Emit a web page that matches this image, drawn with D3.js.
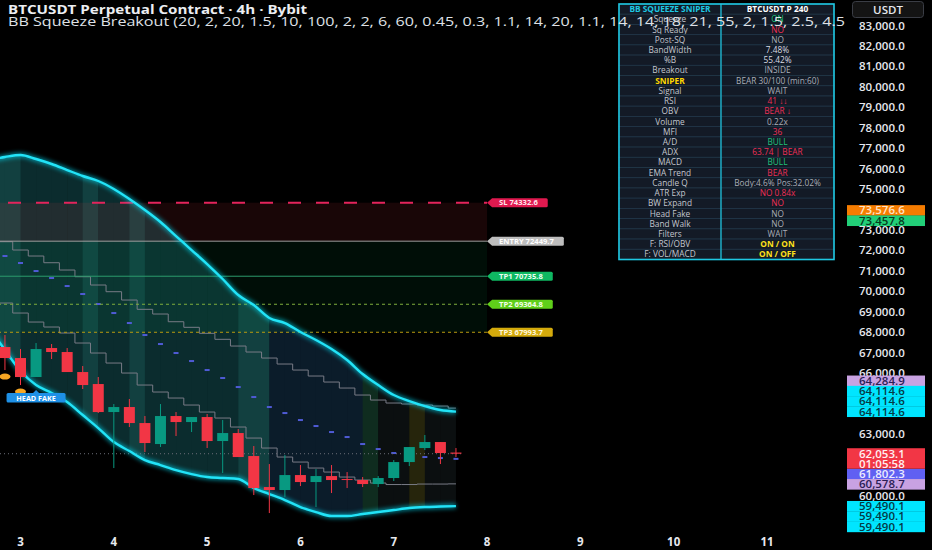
<!DOCTYPE html>
<html>
<head>
<meta charset="utf-8">
<script src="https://cdn.jsdelivr.net/npm/d3@7"></script>
<style>
  html, body { margin: 0; background: #000; overflow: hidden; }
  svg { display: block; font-family: "Open Sans", "Noto Sans", sans-serif; }
</style>
</head>
<body>
<svg id="chart" width="932" height="550"></svg>
<script>
// ---- data (4h bars, first one is day 2 16:00) ----
const firstBar = Date.UTC(2025, 2, 2, 16)
const opens = [67859, 67272, 66734, 65805, 67223, 67028, 66049, 65462, 64092, 64337, 63554, 62527, 63897, 63603, 63848, 62674, 63065, 61940, 60423, 60277, 61010, 60668, 60961, 60815, 60766, 60570, 60864, 61646, 62331, 62625, 62110]
const highs = [68104, 67859, 67174, 67468, 67419, 67223, 66343, 65805, 64484, 64728, 63897, 64484, 64092, 63848, 63995, 63701, 63261, 62429, 61549, 61989, 61500, 61304, 61500, 61157, 60913, 60961, 61744, 62380, 62967, 62625, 62331]
const lows = [67125, 66147, 65413, 65805, 66685, 66049, 65218, 64043, 61353, 63359, 62136, 62380, 62918, 63114, 62331, 61108, 61891, 60032, 59151, 59934, 60472, 59445, 60130, 60374, 60423, 60423, 60717, 61451, 62233, 61549, 61891]
const closes = [67272, 66734, 65805, 67174, 67028, 66049, 65413, 64092, 64337, 63554, 62576, 63897, 63603, 63848, 62674, 63065, 61891, 60374, 60277, 61010, 60668, 60961, 60766, 60766, 60570, 60864, 61646, 62380, 62625, 62087, 62053.1]

const upperBand = [76420, 76567, 76665, 76469, 76225, 75931, 75638, 75393, 75002, 74512, 73974, 73387, 72702, 72017, 71333, 70599, 69816, 69327, 68691, 68446, 68006, 67615, 67174, 66636, 65951, 65413, 64924, 64631, 64386, 64190, 64114.6]
const lowerBand = [68202, 67125, 66098, 65413, 65022, 64582, 63946, 63310, 62625, 62185, 61744, 61500, 61255, 61059, 60913, 60864, 60815, 60374, 60081, 59787, 59445, 59200, 59005, 59005, 59103, 59200, 59298, 59396, 59445, 59469, 59490.1]
const trailUpper = [72702, 72424, 72017, 71724, 71396, 71039, 70711, 70305, 69978, 69571, 69116, 68887, 68510, 68236, 67942, 67649, 67321, 67028, 66734, 66441, 66147, 65854, 65560, 65266, 64924, 64679, 64533, 64484, 64435, 64386, 64284.9]
const trailLower = [69767, 69425, 68935, 68495, 68251, 67957, 67468, 66979, 66489, 66000, 65413, 65071, 64777, 64435, 64092, 63799, 63359, 62820, 62331, 61891, 61646, 61353, 61157, 60913, 60766, 60619, 60546, 60546, 60570, 60570, 60578.7]
const signalLine = [72066, 71724, 71382, 70990, 70648, 70256, 69865, 69376, 68935, 68446, 67859, 67419, 66979, 66587, 66147, 65756, 65315, 64826, 64337, 64043, 63701, 63408, 63114, 62869, 62527, 62282, 62087, 61989, 61891, 61842, 61802.3]
// squeeze state of each bar: 0 squeeze, 1 squeeze peak, 2 release, 3 bull bar, 4 neutral, 5 warning
const bandState = [1, 1, 0, 0, 0, 0, 1, 0, 0, 1, 0, 0, 0, 0, 0, 0, 1, 1, 2, 2, 2, 2, 2, 2, 3, 4, 4, 5, 4, 4, 4]
const headFakeDots = [1, 2]
const headFakeLabel = 3

const levelNames = ['SL', 'ENTRY', 'TP1', 'TP2', 'TP3']
const levelPrices = [74332.6, 72449.7, 70735.8, 69364.8, 67993.7]
const levelEnd = Date.UTC(2025, 2, 8)

const extraLevels = [73576.6, 73457.8]
const countdown = '01:05:58'

const dayTicks = [3, 4, 5, 6, 7, 8, 9, 10, 11]
const priceTicks = d3.range(60000, 83001, 1000)

const tableLabels = ['BB SQUEEZE SNIPER', 'Squeeze', 'Sq Ready', 'Post-SQ', 'BandWidth', '%B', 'Breakout', 'SNIPER', 'Signal', 'RSI', 'OBV', 'Volume', 'MFI', 'A/D', 'ADX', 'MACD', 'EMA Trend', 'Candle Q', 'ATR Exp', 'BW Expand', 'Head Fake', 'Band Walk', 'Filters', 'F: RSI/OBV', 'F: VOL/MACD']
const tableValues = ['BTCUSDT.P 240', 'ON', 'NO', 'NO', '7.48%', '55.42%', 'INSIDE', 'BEAR 30/100 (min:60)', 'WAIT', '41 ↓↓', 'BEAR ↓', '0.22x', '36', 'BULL', '63.74 | BEAR', 'BULL', 'BEAR', 'Body:4.6% Pos:32.02%', 'NO 0.84x', 'NO', 'NO', 'NO', 'WAIT', 'ON / ON', 'ON / OFF']
const tableTones = ['head', 'bull', 'bear', 'muted', 'text', 'text', 'muted', 'muted', 'muted', 'bear', 'bear', 'muted', 'bear', 'bull', 'bear', 'bull', 'bear', 'muted', 'bear', 'bear', 'muted', 'muted', 'muted', 'warn', 'warn']

const titleMain = 'BTCUSDT Perpetual Contract · 4h · Bybit'
const titleStudy = 'BB Squeeze Breakout (20, 2, 20, 1.5, 10, 100, 2, 2, 6, 60, 0.45, 0.3, 1.1, 14, 20, 1.1, 14, 14, 18, 21, 55, 2, 1.5, 2.5, 4.5'

// ---- setup ----
const width = 932, height = 550
const plotRight = 843
const svg = d3.select('#chart')

svg.append('rect').attr('width', width).attr('height', height).attr('fill', '#000')

const x = d3.scaleUtc()
  .domain([new Date(Date.UTC(2025, 2, 3)), new Date(Date.UTC(2025, 2, 11))])
  .range([20.5, 767])
const y = d3.scaleLinear().domain([60000, 83000]).range([495.7, 25.5])

const bars = opens.map((o, i) => ({
  t: new Date(firstBar + i * 4 * 3600 * 1000),
  o: o, h: highs[i], l: lows[i], c: closes[i],
  up: upperBand[i], lo: lowerBand[i],
  a: trailUpper[i], b: trailLower[i], m: signalLine[i],
  s: bandState[i]
}))
const last = bars[bars.length - 1]
const barW = x(bars[1].t) - x(bars[0].t)

const defs = svg.append('defs')
defs.append('clipPath').attr('id', 'plot-clip')
  .append('rect').attr('x', 0).attr('y', 0).attr('width', plotRight).attr('height', height)
const glow = defs.append('filter').attr('id', 'glow')
  .attr('x', '-10%').attr('y', '-10%').attr('width', '120%').attr('height', '120%')
glow.append('feGaussianBlur').attr('stdDeviation', 2.2)

const bandArea = d3.area()
  .x(d => x(d.t)).y0(d => y(d.lo)).y1(d => y(d.up))
  .curve(d3.curveMonotoneX)
defs.append('clipPath').attr('id', 'band-clip')
  .append('path').attr('d', bandArea(bars))

const plot = svg.append('g').attr('clip-path', 'url(#plot-clip)')

// band fill, coloured per bar segment
const stateColors = ['#0b2c2e', '#124040', '#0b1c2a', '#0f2c1f', '#0b0f10', '#26250c']
plot.append('g').attr('clip-path', 'url(#band-clip)')
  .selectAll('rect')
  .data(bars.slice(0, -1))
  .join('rect')
  .attr('x', d => x(d.t))
  .attr('width', barW + 0.5)
  .attr('y', 0)
  .attr('height', height)
  .attr('fill', d => stateColors[d.s])

// trade zones
const xStart = -20
const xEnd = x(new Date(levelEnd))
plot.append('rect')
  .attr('x', xStart).attr('width', xEnd - xStart)
  .attr('y', y(levelPrices[0])).attr('height', y(levelPrices[1]) - y(levelPrices[0]))
  .attr('fill', 'rgba(242,54,69,0.1)')
plot.append('rect')
  .attr('x', xStart).attr('width', xEnd - xStart)
  .attr('y', y(levelPrices[1])).attr('height', y(levelPrices[4]) - y(levelPrices[1]))
  .attr('fill', 'rgba(0,200,100,0.07)')

// trailing step lines
const stepLine = key => d3.line().x(d => x(d.t)).y(d => y(d[key])).curve(d3.curveStep)
plot.append('path').attr('d', stepLine('a')(bars))
  .attr('fill', 'none').attr('stroke', '#787b86').attr('stroke-width', 1)
plot.append('path').attr('d', stepLine('b')(bars))
  .attr('fill', 'none').attr('stroke', '#787b86').attr('stroke-width', 1)

// signal dashes
plot.append('g').selectAll('rect')
  .data(bars)
  .join('rect')
  .attr('x', d => x(d.t) - 2.5)
  .attr('y', d => y(d.m) - 1)
  .attr('width', 5)
  .attr('height', 2)
  .attr('fill', '#4f5bd5')

// level lines
const levelStyle = {
  SL: { line: '#e3245c', dash: '13,15', w: 2, tag: '#e0194f', text: '#ffe6ee' },
  ENTRY: { line: '#9e9e9e', dash: null, w: 1, tag: '#bdbdbd', text: '#ffffff' },
  TP1: { line: '#2b9b6c', dash: null, w: 1, tag: '#0fb862', text: '#eafff2' },
  TP2: { line: '#7fae3c', dash: '3,3', w: 1, tag: '#5fcf1a', text: '#f3ffe8' },
  TP3: { line: '#b89a10', dash: '3,3', w: 1, tag: '#d4aa0c', text: '#fff8de' }
}
levelNames.forEach((name, i) => {
  const st = levelStyle[name]
  plot.append('line')
    .attr('x1', xStart).attr('x2', xEnd)
    .attr('y1', y(levelPrices[i])).attr('y2', y(levelPrices[i]))
    .attr('stroke', st.line).attr('stroke-width', st.w)
    .attr('stroke-dasharray', st.dash)
})

// current price line
plot.append('line')
  .attr('x1', 0).attr('x2', x(last.t) + 7)
  .attr('y1', y(last.c)).attr('y2', y(last.c))
  .attr('stroke', '#6b6e78').attr('stroke-width', 1)
  .attr('stroke-dasharray', '1,3')

// bands
const bandLine = key => d3.line().x(d => x(d.t)).y(d => y(d[key])).curve(d3.curveMonotoneX)
;['up', 'lo'].forEach(key => {
  plot.append('path').attr('d', bandLine(key)(bars))
    .attr('fill', 'none').attr('stroke', '#00e5ff').attr('stroke-width', 5)
    .attr('opacity', 0.55).attr('filter', 'url(#glow)')
  plot.append('path').attr('d', bandLine(key)(bars))
    .attr('fill', 'none').attr('stroke', '#22e3f7').attr('stroke-width', 2.4)
})

// candles
const upColor = '#089981', downColor = '#f23645'
const candles = plot.append('g').selectAll('g')
  .data(bars)
  .join('g')
candles.append('line')
  .attr('x1', d => x(d.t)).attr('x2', d => x(d.t))
  .attr('y1', d => y(d.h)).attr('y2', d => y(d.l))
  .attr('stroke', d => d.c >= d.o ? upColor : downColor)
  .attr('stroke-width', 1)
candles.append('rect')
  .attr('x', d => x(d.t) - 5.5)
  .attr('width', 11)
  .attr('y', d => y(Math.max(d.o, d.c)))
  .attr('height', d => Math.max(1, Math.abs(y(d.o) - y(d.c))))
  .attr('fill', d => d.c >= d.o ? upColor : downColor)

// head fake markers
plot.append('g').selectAll('ellipse')
  .data(headFakeDots.map(i => bars[i]))
  .join('ellipse')
  .attr('cx', d => x(d.t))
  .attr('cy', d => y(d.l) + 6.5)
  .attr('rx', 5.5).attr('ry', 3)
  .attr('fill', '#f5a623')

const hf = bars[headFakeLabel]
const hfX = x(hf.t), hfY = y(hf.lo) + 5
const hfG = plot.append('g')
hfG.append('path')
  .attr('d', `M${hfX - 3},${hfY + 3}L${hfX},${hfY}L${hfX + 3},${hfY + 3}Z`)
  .attr('fill', '#1e90e6')
hfG.append('rect')
  .attr('x', hfX - 29.5).attr('y', hfY + 3)
  .attr('width', 59).attr('height', 9.5).attr('rx', 1.5)
  .attr('fill', '#1e90e6')
hfG.append('text')
  .attr('x', hfX).attr('y', hfY + 10.5)
  .attr('text-anchor', 'middle')
  .attr('font-size', 7.2).attr('font-weight', 700)
  .attr('fill', '#ffffff')
  .text('HEAD FAKE')

// level tags
levelNames.forEach((name, i) => {
  const st = levelStyle[name]
  const cy = y(levelPrices[i])
  const g = svg.append('g')
  const t = g.append('text')
    .attr('x', xEnd + 12).attr('y', cy + 2.7)
    .attr('font-size', 7.6).attr('font-weight', 700)
    .attr('fill', st.text)
    .text(name + ' ' + levelPrices[i].toFixed(1))
  const tw = t.node().getComputedTextLength()
  const right = xEnd + 12 + tw + 10
  g.insert('path', 'text')
    .attr('d', `M${xEnd},${cy}L${xEnd + 5},${cy - 4.5}L${right - 1.5},${cy - 4.5}Q${right},${cy - 4.5} ${right},${cy - 3}L${right},${cy + 3}Q${right},${cy + 4.5} ${right - 1.5},${cy + 4.5}L${xEnd + 5},${cy + 4.5}Z`)
    .attr('fill', st.tag)
})

// ---- x axis ----
svg.append('g').selectAll('text')
  .data(dayTicks)
  .join('text')
  .attr('x', d => x(new Date(Date.UTC(2025, 2, d))))
  .attr('y', 545.5)
  .attr('text-anchor', 'middle')
  .attr('font-size', 11.5).attr('font-weight', 700)
  .attr('fill', '#e6e8ee')
  .text(d => d)

// ---- price scale labels (layout first, ticks hidden where covered) ----
const fmt = d3.format(',.1f')
const labelStyle = {
  orange: ['#f57c00', '#ffe3c6'],
  green: ['#22cf78', '#063b20'],
  purple: ['#c8a2e2', '#2b1d55'],
  cyan: ['#00e5ff', '#053a45'],
  blue: ['#6060f2', '#ececff'],
  red: ['#f23645', '#fff0f0']
}
const scaleLabels = [
  { p: extraLevels[0], k: 'orange' },
  { p: extraLevels[1], k: 'green' },
  { p: last.a, k: 'purple' },
  { p: last.up, k: 'cyan' }, { p: last.up, k: 'cyan' }, { p: last.up, k: 'cyan' },
  { p: last.m, k: 'blue' },
  { p: last.b, k: 'purple' },
  { p: last.lo, k: 'cyan' }, { p: last.lo, k: 'cyan' }, { p: last.lo, k: 'cyan' }
]
const lh = 10.3
const curY = y(last.c)
const curTop = curY - 5.5, curBottom = curTop + 20.5
// push labels away from the current price label
let limit = curTop
scaleLabels.filter(d => d.p > last.c).sort((a, b) => a.p - b.p).forEach(d => {
  d.cy = Math.min(y(d.p), limit - lh / 2)
  limit = d.cy - lh / 2
})
limit = curBottom
scaleLabels.filter(d => d.p < last.c).sort((a, b) => b.p - a.p).forEach(d => {
  d.cy = Math.max(y(d.p), limit + lh / 2)
  limit = d.cy + lh / 2
})

const visibleTicks = priceTicks.filter(p => {
  const ty = y(p)
  if (ty > curTop - 3 && ty < curBottom + 3) return false
  return scaleLabels.every(d => Math.abs(ty - d.cy) > lh / 2 + 2)
})
svg.append('g').selectAll('text')
  .data(visibleTicks)
  .join('text')
  .attr('x', 859)
  .attr('y', d => y(d) + 4)
  .attr('font-size', 11.5).attr('font-weight', 600)
  .attr('fill', '#e6e8ee')
  .text(d => fmt(d))

const labelG = svg.append('g')
scaleLabels.forEach(d => {
  const [bg, fg] = labelStyle[d.k]
  labelG.append('rect')
    .attr('x', 847).attr('y', d.cy - lh / 2)
    .attr('width', 78).attr('height', lh + 0.3)
    .attr('fill', bg)
  labelG.append('text')
    .attr('x', 859).attr('y', d.cy + 4)
    .attr('font-size', 11.5).attr('font-weight', 600)
    .attr('fill', fg)
    .text(fmt(d.p))
})
labelG.append('rect')
  .attr('x', 847).attr('y', curTop)
  .attr('width', 78).attr('height', 20.5)
  .attr('fill', labelStyle.red[0])
labelG.append('text')
  .attr('x', 859).attr('y', curY + 4)
  .attr('font-size', 11.5).attr('font-weight', 600)
  .attr('fill', labelStyle.red[1])
  .text(fmt(last.c))
labelG.append('text')
  .attr('x', 859).attr('y', curY + 14)
  .attr('font-size', 11.5).attr('font-weight', 600)
  .attr('fill', labelStyle.red[1])
  .text(countdown)

// currency button
svg.append('rect')
  .attr('x', 852.5).attr('y', 1.5).attr('width', 71).attr('height', 16).attr('rx', 3)
  .attr('fill', '#141414').attr('stroke', '#3a3d45')
svg.append('text')
  .attr('x', 888).attr('y', 13.5).attr('text-anchor', 'middle')
  .attr('font-size', 11.5).attr('font-weight', 600).attr('fill', '#e6e8ee')
  .text('USDT')

// ---- table ----
const tx0 = 619, tx1 = 721, tx2 = 834, ty0 = 4, rowH = 10.22
const toneColor = {
  head: '#ffffff', bull: '#1fc27a', bear: '#ee2f57', muted: '#a9adb6',
  text: '#d9dce3', warn: '#ffe11a'
}
const table = svg.append('g')
tableLabels.forEach((lab, r) => {
  const ry = ty0 + r * rowH
  table.append('rect').attr('x', tx0).attr('y', ry).attr('width', tx1 - tx0).attr('height', rowH)
    .attr('fill', '#131a26').attr('stroke', '#22384a').attr('stroke-width', 0.8)
  table.append('rect').attr('x', tx1).attr('y', ry).attr('width', tx2 - tx1).attr('height', rowH)
    .attr('fill', '#131a26').attr('stroke', '#22384a').attr('stroke-width', 0.8)
  const head = r === 0
  const sniper = lab === 'SNIPER'
  table.append('text')
    .attr('x', (tx0 + tx1) / 2).attr('y', ry + rowH / 2 + 3)
    .attr('text-anchor', 'middle')
    .attr('font-size', 8.3)
    .attr('font-weight', head || sniper ? 700 : 400)
    .attr('fill', head ? '#1ec8e3' : sniper ? '#ffd600' : '#c3c7cf')
    .text(lab)
  table.append('text')
    .attr('x', (tx1 + tx2) / 2).attr('y', ry + rowH / 2 + 3)
    .attr('text-anchor', 'middle')
    .attr('font-size', 8.3)
    .attr('font-weight', head || tableTones[r] === 'warn' ? 700 : 400)
    .attr('fill', toneColor[tableTones[r]])
    .text(tableValues[r])
})
table.append('rect')
  .attr('x', tx0).attr('y', ty0).attr('width', tx2 - tx0).attr('height', rowH * tableLabels.length)
  .attr('fill', 'none').attr('stroke', '#1ec8e3').attr('stroke-width', 1.6)
table.append('line')
  .attr('x1', tx1).attr('x2', tx1).attr('y1', ty0).attr('y2', ty0 + rowH * tableLabels.length)
  .attr('stroke', '#1ec8e3').attr('stroke-width', 1.2)

// ---- legend titles ----
svg.append('text')
  .attr('x', 8).attr('y', 13.5)
  .attr('font-size', 12).attr('font-weight', 700).attr('fill', '#eceef2')
  .attr('textLength', 299).attr('lengthAdjust', 'spacingAndGlyphs')
  .text(titleMain)
svg.append('text')
  .attr('x', 8).attr('y', 25.5)
  .attr('font-size', 12).attr('fill', '#dfe1e6')
  .attr('textLength', 837).attr('lengthAdjust', 'spacingAndGlyphs')
  .text(titleStudy)
</script>
</body>
</html>
